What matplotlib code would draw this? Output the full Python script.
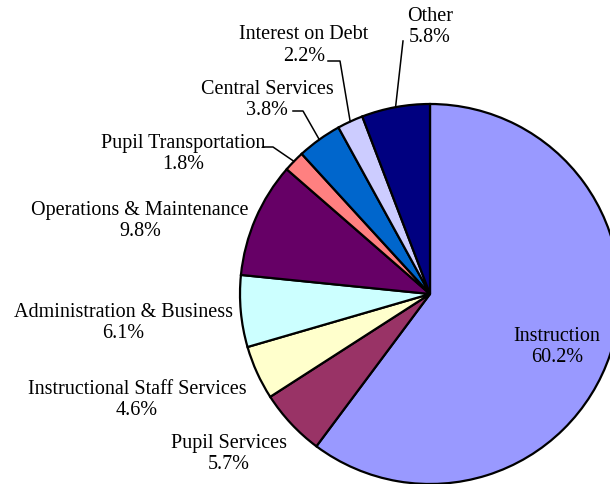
import matplotlib
matplotlib.use("Agg")
import matplotlib.pyplot as plt
import numpy as np

categories = ["Instruction", "Pupil Services", "Instructional Staff Services",
              "Administration & Business", "Operations & Maintenance",
              "Pupil Transportation", "Central Services", "Interest on Debt", "Other"]
values = [60.2, 5.7, 4.6, 6.1, 9.8, 1.8, 3.8, 2.2, 5.8]
colors = ["#9999FF", "#993366", "#FFFFCC", "#CCFFFF", "#660066",
          "#FF8080", "#0066CC", "#CCCCFF", "#000080"]

W, H = 610, 485
CX, CY, R = 430, 295, 190

fig = plt.figure(figsize=(W / 100, H / 100), dpi=100)
ax = fig.add_axes([(CX - R) / W, (H - CY - R) / H, 2 * R / W, 2 * R / H])
ax.set_xlim(-1, 1)
ax.set_ylim(-1, 1)
ax.set_aspect("equal")
ax.axis("off")

wedges, _ = ax.pie(values, colors=colors, startangle=90, counterclock=False,
                   radius=1, wedgeprops=dict(edgecolor="black", linewidth=1.6),
                   frame=False)
ax.set_xlim(-1, 1)
ax.set_ylim(-1, 1)

def px(x, y):
    return ((x - CX) / R, (CY - y) / R)

# label centers in pixel
label_pos = [(557, 347), (229, 454), (137, 400), (123, 323), (140, 221),
             (183, 154), (267, 100), (304, 45.5), (430, 27)]

for cat, v, (lx, ly) in zip(categories, values, label_pos):
    x, y = px(lx, ly)
    ax.text(x, y, f"{cat}\n{v:.1f}%", ha="center", va="center",
            fontsize=14.5, family="Liberation Serif", linespacing=1.2,
            clip_on=False)

# leader lines: label-side points in pixel, end at wedge mid-angle edge
leaders = {
    5: [(263, 148), (273, 148)],
    6: [(293, 112), (303, 112)],
    7: [(328, 62), (340, 62)],
    8: [(403, 42)],
}
for i, pts in leaders.items():
    w = wedges[i]
    mid = np.deg2rad((w.theta1 + w.theta2) / 2)
    ex, ey = np.cos(mid), np.sin(mid)
    xs = [px(*p)[0] for p in pts] + [ex]
    ys = [px(*p)[1] for p in pts] + [ey]
    ax.plot(xs, ys, color="black", linewidth=1.1, clip_on=False, zorder=5)

fig.savefig("out.png", dpi=100)
